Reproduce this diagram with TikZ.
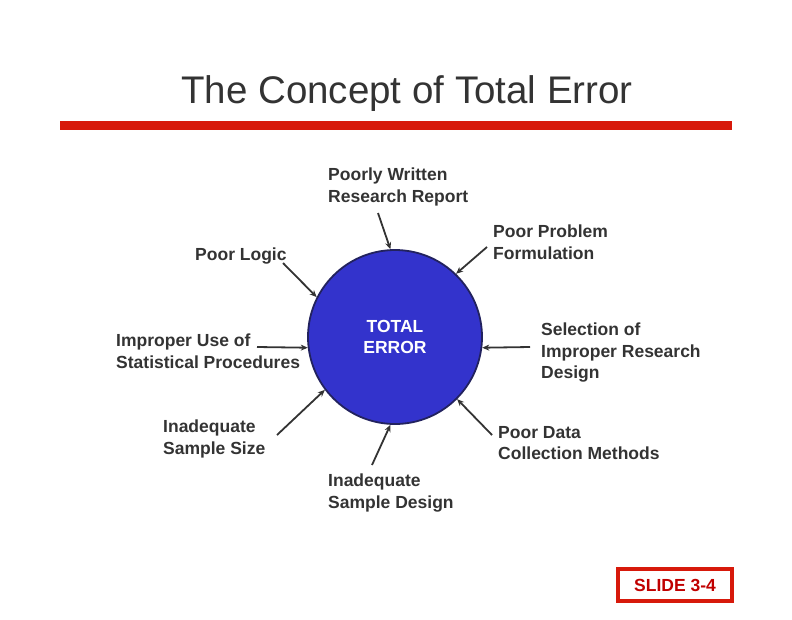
\documentclass[tikz,border=0pt]{standalone}
\usepackage{fontspec}
\setmainfont{Liberation Sans}
\usetikzlibrary{arrows.meta,positioning}
\definecolor{gristexto}{HTML}{333333}
\definecolor{rojo}{HTML}{D7190B}
\definecolor{rojotexto}{HTML}{C00000}
\definecolor{azul}{HTML}{3333CC}
\definecolor{azulborde}{HTML}{22225E}

\begin{document}
\begin{tikzpicture}[x=1pt, y=-1pt, >={Stealth[length=7pt,width=6pt]}]

    \useasboundingbox (0,0) rectangle (792,619);

    % Estilos
    \tikzstyle{etiqueta}=[anchor=north west, inner sep=0pt, align=left, text=gristexto, font=\fontsize{17.5}{21.5}\selectfont\bfseries]
    \tikzstyle{flecha}=[->, draw=gristexto, line width=1.8pt]

    % Titulo y barra roja
    \node[text=gristexto, font=\fontsize{38.5}{44}\selectfont, anchor=base] (titulo) at (407,103) {The Concept of Total Error};
    \fill[rojo] (60,121) rectangle (732,130);

    % Circulo central
    \node[circle, draw=azulborde, line width=1.8pt, fill=azul, minimum size=174pt, inner sep=0pt,
          text=white, align=center, font=\fontsize{17.5}{21}\selectfont\bfseries] (error) at (395,337) {TOTAL\\ERROR};

    % Causas
    \node[etiqueta] (informe)     at (328,168) {Poorly Written\\Research Report};
    \node[etiqueta] (problema)    at (493,225) {Poor Problem\\Formulation};
    \node[etiqueta] (logica)      at (195,248) {Poor Logic};
    \node[etiqueta] (estadistica) at (116,334) {Improper Use of\\Statistical Procedures};
    \node[etiqueta] (disenio)     at (541,323) {Selection of\\Improper Research\\Design};
    \node[etiqueta] (tamanio)     at (163,420) {Inadequate\\Sample Size};
    \node[etiqueta] (datos)       at (498,426) {Poor Data\\Collection Methods};
    \node[etiqueta] (muestra)     at (328,474) {Inadequate\\Sample Design};

    % Origen de las flechas
    \coordinate (t1) at (378,213);
    \coordinate (t2) at (487,247);
    \coordinate (t3) at (283,263);
    \coordinate (t4) at (257,347);
    \coordinate (t5) at (530,347);
    \coordinate (t6) at (277,435);
    \coordinate (t7) at (372,465);
    \coordinate (t8) at (492,435);

    % Flechas hacia el circulo
    \path
        (t1) edge[flecha] (error.93)
        (t2) edge[flecha] (error.46)
        (t3) edge[flecha] (error.153)
        (t4) edge[flecha] (error.187)
        (t5) edge[flecha] (error.353)
        (t6) edge[flecha] (error.217)
        (t7) edge[flecha] (error.267)
        (t8) edge[flecha] (error.315);

    % Numero de diapositiva
    \node[draw=rojo, line width=4pt, minimum width=114pt, minimum height=32pt, inner sep=0pt,
          text=rojotexto, font=\fontsize{17.5}{20}\selectfont\bfseries] (diapositiva) at (675,585) {SLIDE 3-4};
\end{tikzpicture}
\end{document}
